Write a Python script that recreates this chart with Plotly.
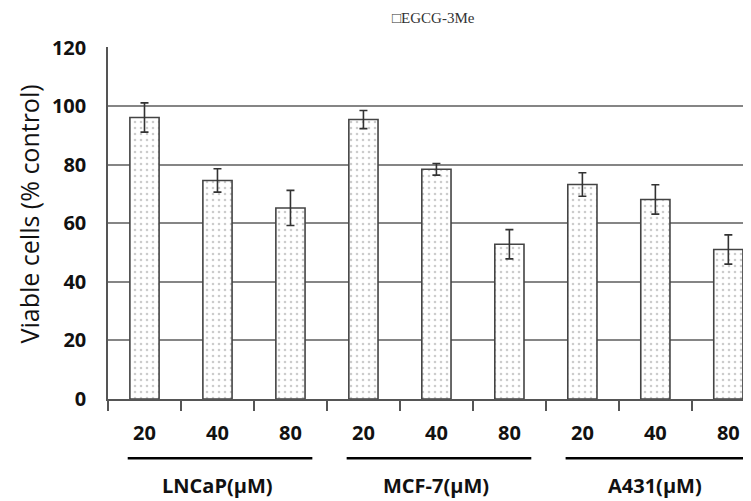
import plotly.graph_objects as go

cell_lines = ["LNCaP(μM)", "MCF-7(μM)", "A431(μM)"]
doses = ["20", "40", "80"]
viability = [96.2, 74.7, 65.3, 95.5, 78.5, 52.9, 73.3, 68.2, 51.1]
errors = [5.0, 4.0, 6.0, 3.1, 2.0, 5.0, 4.0, 5.0, 5.0]
series_name = "EGCG-3Me"
y_ticks = [0, 20, 40, 60, 80, 100, 120]

categories = [f"{c} {d}" for c in cell_lines for d in doses]
tick_text = [d for c in cell_lines for d in doses]

fig = go.Figure()
fig.add_trace(go.Bar(
    x=categories, y=viability, name=series_name,
    marker=dict(color="white",
                line=dict(color="#444444", width=1.6),
                pattern=dict(shape=".", fgcolor="#9a9a9a", bgcolor="white",
                             size=6, solidity=0.15)),
    error_y=dict(type="data", array=errors, visible=True,
                 color="#333333", thickness=1.6, width=4),
    width=0.4,
))

bold = dict(family="Open Sans", size=20, color="#111111", weight="bold")

fig.update_layout(
    width=751, height=501,
    margin=dict(l=100, r=0, t=39, b=110),
    paper_bgcolor="white", plot_bgcolor="white",
    showlegend=False,
    xaxis=dict(type="category", range=[-0.5, 8.42], automargin=False,
               tickmode="array", tickvals=categories, ticktext=tick_text,
               tickson="boundaries", ticks="outside", ticklen=10,
               tickcolor="#555555", tickwidth=1.5,
               showline=True, linecolor="#555555", linewidth=1.5,
               showgrid=False, tickfont=bold, ticklabelstandoff=15),
    yaxis=dict(range=[0, 120.3], tickmode="array", tickvals=y_ticks,
               automargin=False,
               showgrid=True, gridcolor="#858585", gridwidth=1.5,
               zeroline=False, showline=True, linecolor="#555555",
               linewidth=1.5, ticks="", tickfont=bold,
               ticklabelstandoff=16),
)

# y-axis title
fig.add_annotation(x=-0.122, y=0.526, xref="paper", yref="paper",
                   text="Viable cells (% control)", textangle=-90,
                   showarrow=False, xanchor="center", yanchor="middle",
                   borderpad=0,
                   font=dict(family="Open Sans", size=25, color="#111111"))

# y-axis line extending below the baseline
fig.add_shape(type="line", xref="paper", yref="y", x0=0, x1=0,
              y0=-21, y1=0, line=dict(color="#555555", width=1.5))

# group underlines and labels
for i, c in enumerate(cell_lines):
    fig.add_shape(type="line", xref="x", yref="paper",
                  x0=3 * i - 0.23, x1=3 * i + 2.3, y0=-0.168, y1=-0.168,
                  line=dict(color="black", width=2.5))
    fig.add_annotation(x=categories[3 * i + 1], xref="x", yref="paper",
                       y=-0.245, text=c, showarrow=False, font=bold,
                       yanchor="middle")

fig.add_annotation(x=0.5, xref="paper", yref="paper",
                   y=1.083, yanchor="middle",
                   text="□" + series_name, showarrow=False,
                   font=dict(family="Liberation Serif", size=15,
                             color="#333333"))

fig.write_html("out.html")
